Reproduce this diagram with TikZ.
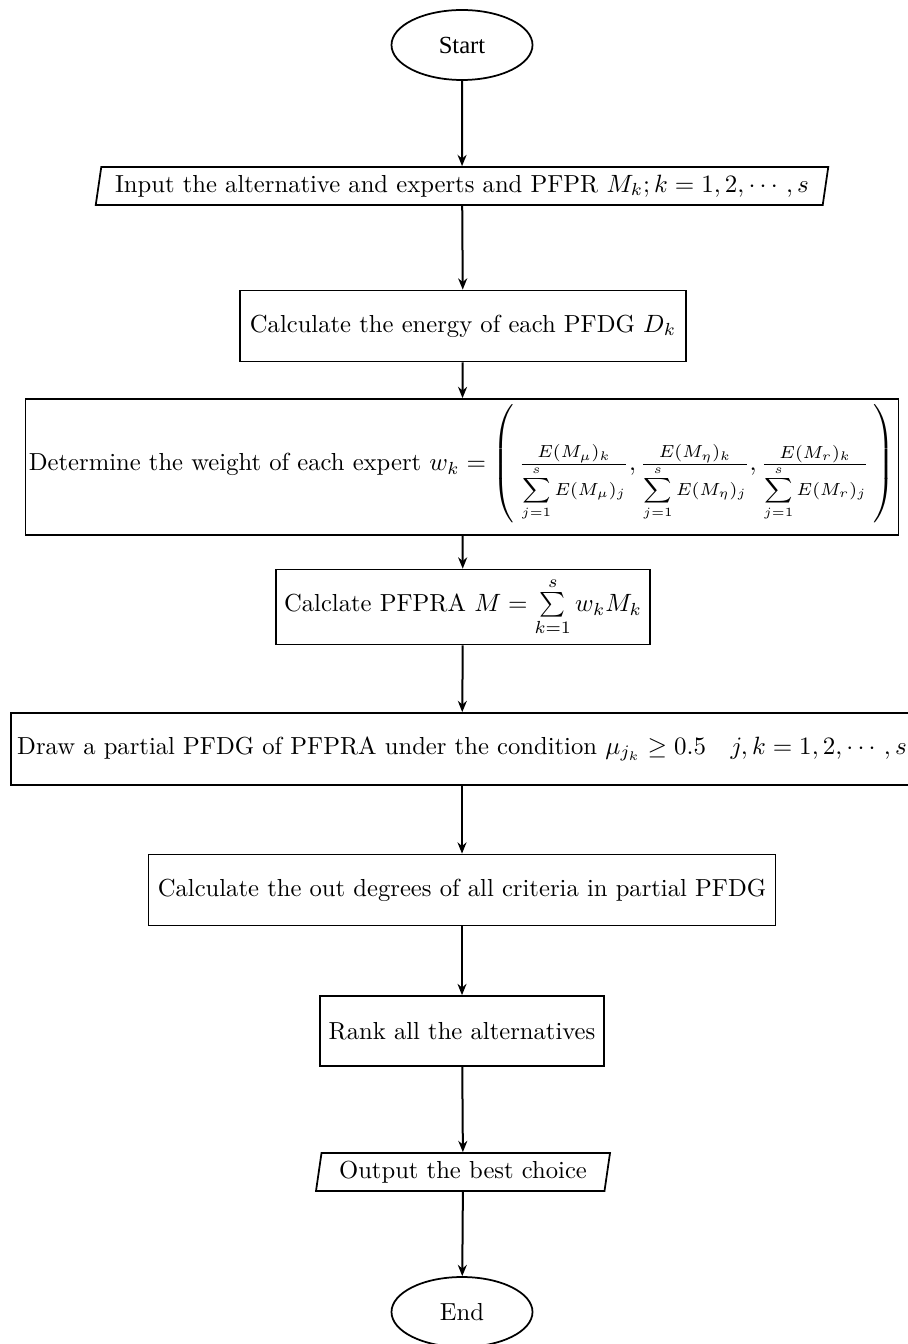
\documentclass[tikz,border=0pt]{standalone}
\usepackage{amsmath,amssymb}
\usepackage{fontspec}
\newfontfamily\startfont{Liberation Serif}
\usetikzlibrary{shapes.geometric,arrows.meta}
% a display-size sum set at script size, used in the weight denominators
\newcommand{\smallsum}{\mbox{\scriptsize$\displaystyle\sum_{j=1}^{s}$}\,}
\begin{document}
\begin{tikzpicture}[x=0.4pt,y=-0.4pt,
  base/.style={draw, line width=0.7pt, inner sep=0pt, align=center, font=\fontsize{9.85}{12}\selectfont},
  terminal/.style={base, ellipse, minimum width=56.4pt, minimum height=28pt},
  process/.style={base, rectangle},
  io/.style={base, trapezium, trapezium left angle=76, trapezium right angle=104,
             trapezium stretches body, minimum height=15.2pt},
  flow/.style={line width=0.8pt, -{Stealth[length=4.5pt,width=3.6pt]}}]
\useasboundingbox (0,0) rectangle (907,1344);

\node[terminal] (start) at (462,45) {\startfont Start};
\node[io, minimum width=293pt] (input) at (462,186)
  {Input the alternative and experts and PFPR $M_k;k=1,2,\cdots,s$};
\node[process, minimum width=178.4pt, minimum height=28.4pt] (energy) at (463,326)
  {Calculate the energy of each PFDG $D_k$};
\node[process, minimum width=349.2pt, minimum height=54.4pt] (weight) at (462,467)
  {Determine the weight of each expert $w_k=\left(\rule[-23.5pt]{0pt}{47pt}\,
   \frac{E(M_\mu)_k}{\smallsum E(M_\mu)_j},
   \frac{E(M_\eta)_k}{\smallsum E(M_\eta)_j},
   \frac{E(M_r)_k}{\smallsum E(M_r)_j}\,\right)$};
\node[process, minimum width=149.6pt, minimum height=30pt] (pfpra) at (463,607)
  {Calclate PFPRA $M=\sum\limits_{k=1}^{s}w_kM_k$};
\node[process, minimum width=360.8pt, minimum height=28.8pt] (partial) at (462,749)
  {Draw a partial PFDG of PFPRA under the condition $\mu_{j_k}\geq 0.5\quad j,k=1,2,\cdots,s$};
\node[process, minimum width=250.8pt, minimum height=28.4pt] (outdeg) at (462,890)
  {Calculate the out degrees of all criteria in partial PFDG};
\node[process, minimum width=113.6pt, minimum height=28pt] (rank) at (462,1031)
  {Rank all the alternatives};
\node[io, minimum width=117.6pt] (output) at (463,1172)
  {Output the best choice};
\node[terminal] (end) at (462,1312) {End};

\draw[flow] (start) -- (input);
\draw[flow] (input) -- (energy);
\draw[flow] (energy) -- (weight);
\draw[flow] (weight) -- (pfpra);
\draw[flow] (pfpra) -- (partial);
\draw[flow] (partial) -- (outdeg);
\draw[flow] (outdeg) -- (rank);
\draw[flow] (rank) -- (output);
\draw[flow] (output) -- (end);
\end{tikzpicture}
\end{document}
